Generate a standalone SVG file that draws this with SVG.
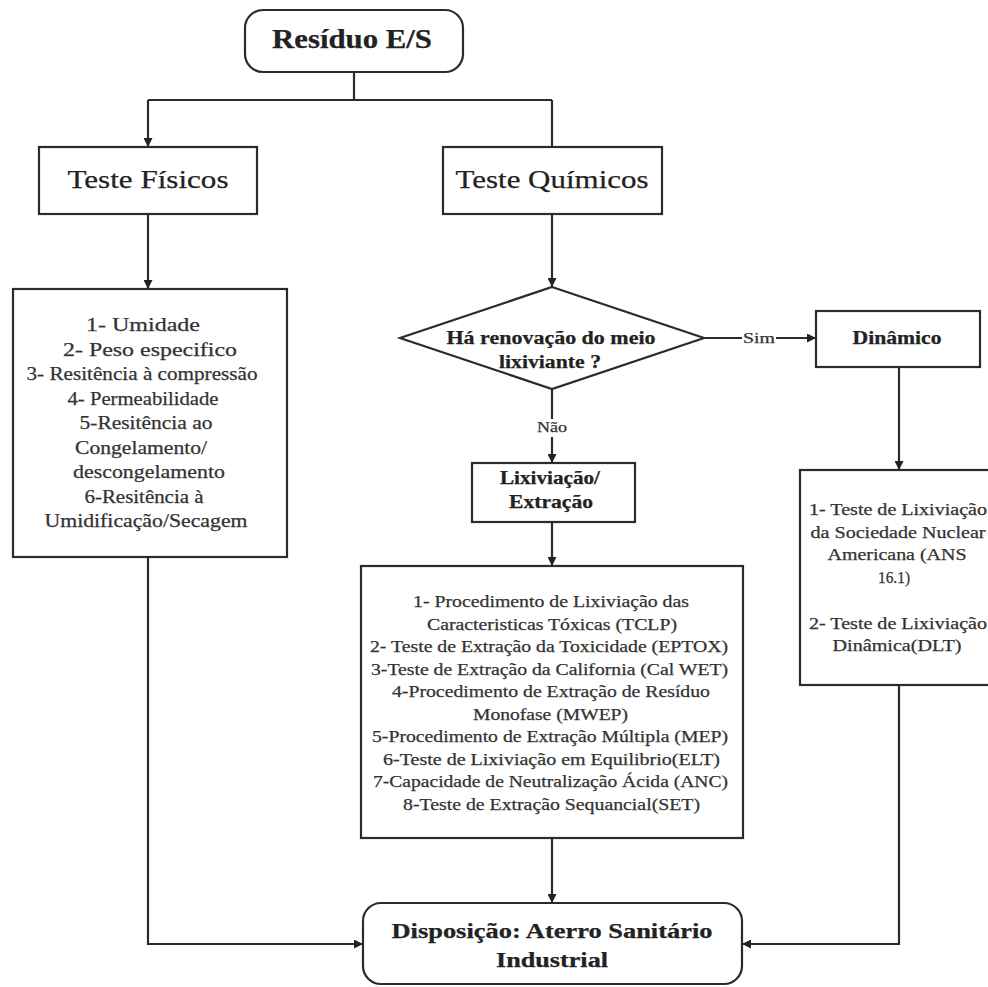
<svg xmlns="http://www.w3.org/2000/svg" width="988" height="987" viewBox="0 0 988 987" font-family="'Liberation Serif', 'DejaVu Serif', serif">
  <defs>
    <marker id="arrow" viewBox="0 0 10 10" refX="10" refY="5" markerWidth="9" markerHeight="9" markerUnits="userSpaceOnUse" orient="auto">
      <path d="M0,0 L10,5 L0,10 Z" fill="#222"/>
    </marker>
    <style>
      .box { fill: #fff; stroke: #2b2b2b; stroke-width: 2.2; }
      .conn { fill: none; stroke: #2b2b2b; stroke-width: 2.2; }
      .t { font-family: 'Liberation Serif', 'DejaVu Serif', serif; text-anchor: middle; fill: #222; stroke: #222; stroke-width: 0.25; }
      .b { font-weight: bold; }
      .lst { fill: #333; stroke: #333; font-size: 16px; }
      .lbl { font-size: 14px; fill: #333; stroke: #333; }
      .bg { fill: #fff; }
    </style>
  </defs>
  <rect width="988" height="987" fill="#fff"/>

  <!-- connectors -->
  <g id="connectors">
    <path class="conn" d="M354,72 V100"/>
    <path class="conn" d="M148,100 H552"/>
    <path class="conn" d="M148,100 V147" marker-end="url(#arrow)"/>
    <path class="conn" d="M552,100 V147"/>
    <path class="conn" d="M148,214 V289" marker-end="url(#arrow)"/>
    <path class="conn" d="M552,214 V287" marker-end="url(#arrow)"/>
    <path class="conn" d="M698,338 H816" marker-end="url(#arrow)"/>
    <path class="conn" d="M899,367 V470" marker-end="url(#arrow)"/>
    <path class="conn" d="M552,389 V463" marker-end="url(#arrow)"/>
    <path class="conn" d="M552,522 V566" marker-end="url(#arrow)"/>
    <path class="conn" d="M552,838 V903" marker-end="url(#arrow)"/>
    <path class="conn" d="M148,557 V944 H363" marker-end="url(#arrow)"/>
    <path class="conn" d="M899,685 V944 H742" marker-end="url(#arrow)"/>
    <!-- branch labels -->
    <rect class="bg" x="742" y="331" width="34" height="16"/>
    <text class="t lbl" x="759" y="343" textLength="32" lengthAdjust="spacingAndGlyphs">Sim</text>
    <rect class="bg" x="537" y="419" width="30" height="18"/>
    <text class="t lbl" x="552" y="432" textLength="30" lengthAdjust="spacingAndGlyphs">Não</text>
  </g>

  <g id="residuo">
    <rect class="box" x="245" y="10" width="218" height="62" rx="18"/>
    <text class="t b" x="352" y="48" font-size="27" textLength="160" lengthAdjust="spacingAndGlyphs">Resíduo E/S</text>
  </g>

  <g id="teste-fisicos">
    <rect class="box" x="39" y="147" width="218" height="67"/>
    <text class="t" x="148" y="188" font-size="26" textLength="161" lengthAdjust="spacingAndGlyphs">Teste Físicos</text>
  </g>

  <g id="teste-quimicos">
    <rect class="box" x="443" y="147" width="219" height="67"/>
    <text class="t" x="552" y="188" font-size="26" textLength="193" lengthAdjust="spacingAndGlyphs">Teste Químicos</text>
  </g>

  <g id="fisicos-lista">
    <rect class="box" x="13" y="289" width="274" height="268"/>
    <g class="t lst" font-size="18" style="font-size:18px">
      <text x="143" y="331" textLength="114" lengthAdjust="spacingAndGlyphs">1- Umidade</text>
      <text x="150" y="355.5" textLength="174" lengthAdjust="spacingAndGlyphs">2- Peso especifico</text>
      <text x="142" y="380" textLength="231" lengthAdjust="spacingAndGlyphs">3- Resitência à compressão</text>
      <text x="143" y="404.5" textLength="151" lengthAdjust="spacingAndGlyphs">4- Permeabilidade</text>
      <text x="146" y="429" textLength="133" lengthAdjust="spacingAndGlyphs">5-Resitência ao</text>
      <text x="141" y="453.5" textLength="132" lengthAdjust="spacingAndGlyphs">Congelamento/</text>
      <text x="149" y="478" textLength="152" lengthAdjust="spacingAndGlyphs">descongelamento</text>
      <text x="144" y="502.5" textLength="119" lengthAdjust="spacingAndGlyphs">6-Resitência à</text>
      <text x="146" y="527" textLength="203" lengthAdjust="spacingAndGlyphs">Umidificação/Secagem</text>
    </g>
  </g>

  <g id="decisao">
    <polygon class="box" points="552,287 704,338 552,389 400,338"/>
    <text class="t b" x="551" y="344" font-size="18" textLength="209" lengthAdjust="spacingAndGlyphs">Há renovação do meio</text>
    <text class="t b" x="550" y="368" font-size="18" textLength="102" lengthAdjust="spacingAndGlyphs">lixiviante ?</text>
  </g>

  <g id="dinamico">
    <rect class="box" x="816" y="311" width="164" height="56"/>
    <text class="t b" x="897" y="344" font-size="18" textLength="89" lengthAdjust="spacingAndGlyphs">Dinâmico</text>
  </g>

  <g id="dinamico-lista">
    <rect class="box" x="800" y="470" width="196" height="215"/>
    <g class="t lst">
      <text x="898" y="515" textLength="178" lengthAdjust="spacingAndGlyphs">1- Teste de Lixiviação</text>
      <text x="898" y="537.7" textLength="175" lengthAdjust="spacingAndGlyphs">da Sociedade Nuclear</text>
      <text x="897" y="560.4" textLength="139" lengthAdjust="spacingAndGlyphs">Americana (ANS</text>
      <text x="894" y="583" textLength="32" lengthAdjust="spacingAndGlyphs">16.1)</text>
      <text x="898" y="628.5" textLength="178" lengthAdjust="spacingAndGlyphs">2- Teste de Lixiviação</text>
      <text x="897" y="651.2" textLength="129" lengthAdjust="spacingAndGlyphs">Dinâmica(DLT)</text>
    </g>
  </g>

  <g id="lixiviacao">
    <rect class="box" x="472" y="463" width="163" height="59"/>
    <text class="t b" x="550" y="484" font-size="18" textLength="100" lengthAdjust="spacingAndGlyphs">Lixiviação/</text>
    <text class="t b" x="551" y="508" font-size="18" textLength="84" lengthAdjust="spacingAndGlyphs">Extração</text>
  </g>

  <g id="quimicos-lista">
    <rect class="box" x="361" y="566" width="382" height="272"/>
    <g class="t lst">
      <text x="551" y="607" textLength="276" lengthAdjust="spacingAndGlyphs">1- Procedimento de Lixiviação das</text>
      <text x="552" y="629.5" textLength="250" lengthAdjust="spacingAndGlyphs">Caracteristicas Tóxicas (TCLP)</text>
      <text x="549" y="652" textLength="358" lengthAdjust="spacingAndGlyphs">2- Teste de Extração da Toxicidade (EPTOX)</text>
      <text x="549.5" y="674.6" textLength="357" lengthAdjust="spacingAndGlyphs">3-Teste de Extração da California (Cal WET)</text>
      <text x="551" y="697.2" textLength="318" lengthAdjust="spacingAndGlyphs">4-Procedimento de Extração de Resíduo</text>
      <text x="550.5" y="719.7" textLength="155" lengthAdjust="spacingAndGlyphs">Monofase (MWEP)</text>
      <text x="550" y="742.3" textLength="356" lengthAdjust="spacingAndGlyphs">5-Procedimento de Extração Múltipla (MEP)</text>
      <text x="551.5" y="764.8" textLength="337" lengthAdjust="spacingAndGlyphs">6-Teste de Lixiviação em Equilibrio(ELT)</text>
      <text x="550.5" y="787.4" textLength="355" lengthAdjust="spacingAndGlyphs">7-Capacidade de Neutralização Ácida (ANC)</text>
      <text x="551.5" y="810" textLength="297" lengthAdjust="spacingAndGlyphs">8-Teste de Extração Sequancial(SET)</text>
    </g>
  </g>

  <g id="disposicao">
    <rect class="box" x="363" y="903" width="379" height="81" rx="18"/>
    <text class="t b" x="552" y="938" font-size="20" textLength="321" lengthAdjust="spacingAndGlyphs">Disposição: Aterro Sanitário</text>
    <text class="t b" x="552" y="967" font-size="20" textLength="112" lengthAdjust="spacingAndGlyphs">Industrial</text>
  </g>
</svg>
